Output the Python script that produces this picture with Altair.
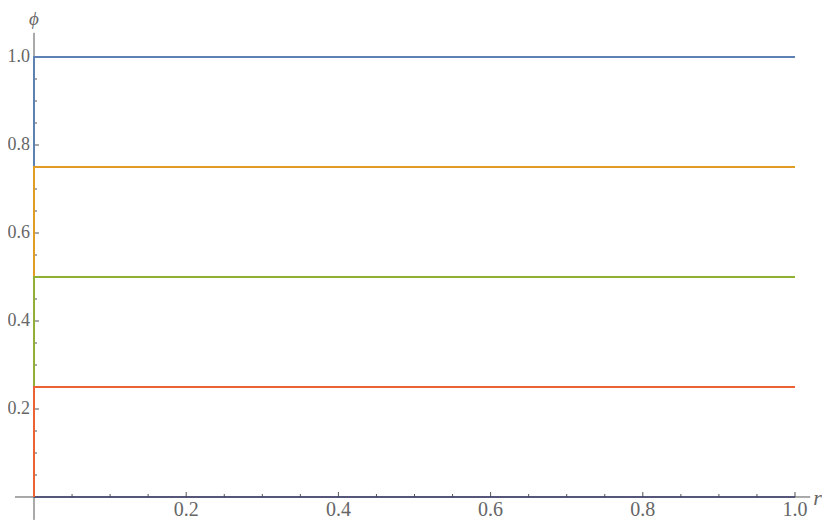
import altair as alt
import pandas as pd

# ---- data ----
series_names = ["a", "b", "c", "d"]
phi_values = [1.0, 0.75, 0.5, 0.25]
series_colors = ["#5E81B5", "#E19C24", "#8FB032", "#EB6235"]
r_start = 0.0
r_end = 1.0
x_axis_extent = [-0.025, 1.02]
y_axis_extent = [-0.052, 1.055]
x_domain = [-0.03417, 1.03548]
y_domain = [-0.05455, 1.1114]
major_ticks = [0.2, 0.4, 0.6, 0.8, 1.0]
major_labels = ["0.2", "0.4", "0.6", "0.8", "1.0"]
minor_ticks = [0.05, 0.1, 0.15, 0.25, 0.3, 0.35, 0.45, 0.5, 0.55,
               0.65, 0.7, 0.75, 0.85, 0.9, 0.95]

FONT = "Liberation Serif"
TEXT_COLOR = "#666666"
AXIS_COLOR = "#555555"

xs = alt.Scale(domain=x_domain, nice=False, zero=False)
ys = alt.Scale(domain=y_domain, nice=False, zero=False)

layers = []

# axes lines
xaxis_df = pd.DataFrame({"x": [x_axis_extent[0]], "x2": [x_axis_extent[1]], "y": [0.0]})
layers.append(alt.Chart(xaxis_df).mark_rule(color=AXIS_COLOR, strokeWidth=1).encode(
    x=alt.X("x:Q", scale=xs, axis=None), x2="x2:Q", y=alt.Y("y:Q", scale=ys, axis=None)))
yaxis_df = pd.DataFrame({"y": [y_axis_extent[0]], "y2": [y_axis_extent[1]], "x": [0.0]})
layers.append(alt.Chart(yaxis_df).mark_rule(color=AXIS_COLOR, strokeWidth=1).encode(
    y=alt.Y("y:Q", scale=ys, axis=None), y2="y2:Q", x=alt.X("x:Q", scale=xs, axis=None)))

# ticks
maj = pd.DataFrame({"v": major_ticks, "label": major_labels, "z": 0.0})
mino = pd.DataFrame({"v": minor_ticks, "z": 0.0})
layers.append(alt.Chart(maj).mark_rule(color=AXIS_COLOR, y2Offset=-5).encode(
    x=alt.X("v:Q", scale=xs, axis=None), y=alt.Y("z:Q", scale=ys, axis=None), y2="z:Q"))
layers.append(alt.Chart(mino).mark_rule(color=AXIS_COLOR, y2Offset=-3).encode(
    x=alt.X("v:Q", scale=xs, axis=None), y=alt.Y("z:Q", scale=ys, axis=None), y2="z:Q"))
layers.append(alt.Chart(maj).mark_rule(color=AXIS_COLOR, x2Offset=5).encode(
    y=alt.Y("v:Q", scale=ys, axis=None), x=alt.X("z:Q", scale=xs, axis=None), x2="z:Q"))
layers.append(alt.Chart(mino).mark_rule(color=AXIS_COLOR, x2Offset=3).encode(
    y=alt.Y("v:Q", scale=ys, axis=None), x=alt.X("z:Q", scale=xs, axis=None), x2="z:Q"))

# tick labels
layers.append(alt.Chart(maj).mark_text(font=FONT, fontSize=20, color=TEXT_COLOR,
                                       align="center", baseline="top", dy=3).encode(
    x=alt.X("v:Q", scale=xs, axis=None), y=alt.Y("z:Q", scale=ys, axis=None), text="label:N"))
layers.append(alt.Chart(maj).mark_text(font=FONT, fontSize=18, color=TEXT_COLOR,
                                       align="right", baseline="middle", dx=-4).encode(
    y=alt.Y("v:Q", scale=ys, axis=None), x=alt.X("z:Q", scale=xs, axis=None), text="label:N"))

# axis titles
rlab = pd.DataFrame({"x": [x_axis_extent[1]], "y": [0.0], "t": ["r"]})
layers.append(alt.Chart(rlab).mark_text(font=FONT, fontSize=22, fontStyle="italic", color=TEXT_COLOR,
                                        align="left", baseline="alphabetic", dx=3, dy=8).encode(
    x=alt.X("x:Q", scale=xs, axis=None), y=alt.Y("y:Q", scale=ys, axis=None), text="t:N"))
plab = pd.DataFrame({"x": [0.0], "y": [y_axis_extent[1]], "t": ["ϕ"]})
layers.append(alt.Chart(plab).mark_text(font=FONT, fontSize=19, fontStyle="italic", color=TEXT_COLOR,
                                        align="center", baseline="top", dy=-23).encode(
    x=alt.X("x:Q", scale=xs, axis=None), y=alt.Y("y:Q", scale=ys, axis=None), text="t:N"))

# baseline segment along r axis
base_df = pd.DataFrame({"x": [r_start], "x2": [r_end], "y": [0.0]})
layers.append(alt.Chart(base_df).mark_rule(color="#3b3a6b", strokeWidth=1.6).encode(
    x=alt.X("x:Q", scale=xs, axis=None), x2="x2:Q", y=alt.Y("y:Q", scale=ys, axis=None)))

# curves
for name, v, c in zip(series_names, phi_values, series_colors):
    df = pd.DataFrame({"r": [r_start, r_start, r_end], "phi": [0.0, v, v], "o": [0, 1, 2]})
    layers.append(alt.Chart(df).mark_line(color=c, strokeWidth=2).encode(
        x=alt.X("r:Q", scale=xs, axis=None), y=alt.Y("phi:Q", scale=ys, axis=None), order="o:Q"))

chart = alt.layer(*layers).properties(
    width=814, height=513, autosize=alt.AutoSizeParams(type="none"), padding=0
).configure_view(stroke=None)

chart.save("out.html", embed_options={"renderer": "svg", "actions": False})
